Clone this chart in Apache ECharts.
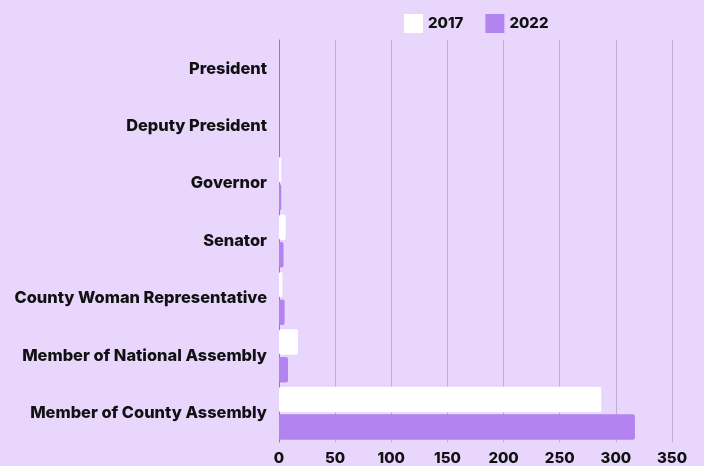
<!DOCTYPE html>
<html><head><meta charset="utf-8">
<script src="https://cdn.jsdelivr.net/npm/echarts@6/dist/echarts.min.js"></script>
<style>html,body{margin:0;padding:0;background:#e9d6fd;}#c{width:704px;height:466px;}</style>
</head><body><div id="c"></div>
<script>
const categories = ["President","Deputy President","Governor","Senator","County Woman Representative","Member of National Assembly","Member of County Assembly"];
const values2017 = [0,0,2,6,3,17,287];
const values2022 = [0,0,2,4,5,8,317];
const seriesNames = ["2017","2022"];
const xTicks = {min:0,max:350,interval:50};

const chart = echarts.init(document.getElementById('c'));
const font = 'Inter, "Open Sans", sans-serif';
chart.setOption({
  backgroundColor:'#e9d6fd',
  animation:false,
  legend:{top:9,left:399,itemWidth:19,itemHeight:19,itemGap:22,icon:'rect',
    textStyle:{fontFamily:font,fontWeight:800,fontSize:15,color:'#111'},
    data:seriesNames},
  grid:{left:279,right:32,top:40,bottom:23,containLabel:false},
  xAxis:{type:'value',min:xTicks.min,max:xTicks.max,interval:xTicks.interval,
    axisLine:{show:false},axisTick:{show:false},
    splitLine:{show:true,lineStyle:{color:'#bfaed2',width:1}},
    axisLabel:{fontFamily:font,fontWeight:800,fontSize:15,color:'#111',margin:9}},
  yAxis:{type:'category',inverse:true,data:categories,
    axisLine:{show:true,lineStyle:{color:'#8d80a0',width:1}},axisTick:{show:false},
    axisLabel:{fontFamily:font,fontWeight:800,fontSize:16.4,color:'#111',margin:12}},
  series:[
    {name:seriesNames[0],type:'bar',data:values2017,barWidth:25.5,barGap:'8%',
      itemStyle:{color:'#ffffff',borderRadius:2}},
    {name:seriesNames[1],type:'bar',data:values2022,barWidth:25.5,barGap:'8%',
      itemStyle:{color:'#b383ef',borderRadius:2}}
  ]
});
</script></body></html>
